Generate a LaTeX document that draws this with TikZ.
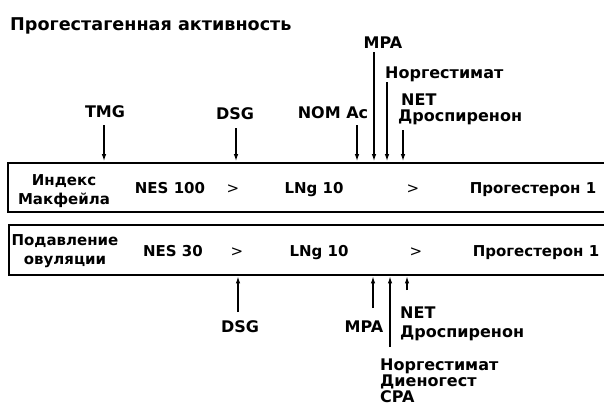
\documentclass[tikz,border=0pt]{standalone}
\usepackage{fontspec}
\setmainfont{DejaVu Sans}
\usetikzlibrary{arrows.meta}
\begin{document}
\begin{tikzpicture}[x=1pt,y=-1pt,
  lbl/.style={font=\bfseries\fontsize{16}{18}\selectfont, inner sep=0pt, anchor=base},
  lbll/.style={font=\bfseries\fontsize{16}{18}\selectfont, inner sep=0pt, anchor=base west},
  txt/.style={font=\bfseries\fontsize{15}{17}\selectfont, inner sep=0pt, anchor=base},
  gt/.style={font=\fontsize{15}{17}\selectfont, inner sep=0pt, anchor=base},
  box/.style={draw, line width=1.5pt, anchor=north west, inner sep=0pt},
  arr/.style={-{Latex[length=7pt,width=4.5pt]}, line width=1.2pt, shorten >=0.9pt}]
\useasboundingbox (0,0) rectangle (604,408);
\fill[white] (0,0) rectangle (604,408);
% title
\node[font=\bfseries\fontsize{17.6}{19}\selectfont, anchor=base west, inner sep=0pt] (title) at (10,30) {Прогестагенная активность};
% boxes
\node[box, minimum width=620pt, minimum height=49pt] (b1) at (7,162) {};
\node[box, minimum width=620pt, minimum height=50pt] (b2) at (8,224) {};
% box 1 content
\node[txt] (mc1) at (64,185) {Индекс};
\node[txt] (mc2) at (64,204) {Макфейла};
\node[txt] (nes1) at (170,193) {NES 100};
\node[gt] (gt1a) at (233,193) {>};
\node[txt] (lng1) at (314,193) {LNg 10};
\node[gt] (gt1b) at (413,193) {>};
\node[txt] (pg1) at (533,193) {Прогестерон 1};
% box 2 content
\node[txt] (ov1) at (65,245) {Подавление};
\node[txt] (ov2) at (65,264) {овуляции};
\node[txt] (nes2) at (173,256) {NES 30};
\node[gt] (gt2a) at (237,256) {>};
\node[txt] (lng2) at (319,256) {LNg 10};
\node[gt] (gt2b) at (416,256) {>};
\node[txt] (pg2) at (536,256) {Прогестерон 1};
% top labels
\node[lbl] (tmg) at (105,117) {TMG};
\node[lbl] (dsg1) at (235,119) {DSG};
\node[lbl] (nom) at (333,118) {NOM Ac};
\node[lbl] (mpa1) at (383,48) {MPA};
\node[lbll] (nrg1) at (385,78) {Норгестимат};
\node[lbll] (net1) at (401,105) {NET};
\node[lbll] (dro1) at (398,121) {Дроспиренон};
% top arrows
\coordinate (t1) at (104,125);
\coordinate (t2) at (236,128);
\coordinate (t3) at (357,125);
\coordinate (t4) at (374,52);
\coordinate (t5) at (387,82);
\coordinate (t6) at (403,130);
\foreach \c in {t1,t2,t3,t4,t5,t6} \draw[arr] (\c) -- (\c |- b1.north);
% bottom labels
\node[lbl] (dsg2) at (240,332) {DSG};
\node[lbl] (mpa2) at (364,332) {MPA};
\node[lbll] (net2) at (400,318) {NET};
\node[lbll] (dro2) at (400,337) {Дроспиренон};
\node[lbll] (nrg2) at (380,370) {Норгестимат};
\node[lbll] (die2) at (380,386) {Диеногест};
\node[lbll] (cpa2) at (380,402) {CPA};
% bottom arrows
\coordinate (u1) at (238,312);
\coordinate (u2) at (373,308);
\coordinate (u3) at (390,347);
\coordinate (u4) at (407,290);
\foreach \c in {u1,u2,u3,u4} \draw[arr] (\c) -- (\c |- b2.south);
\end{tikzpicture}
\end{document}
